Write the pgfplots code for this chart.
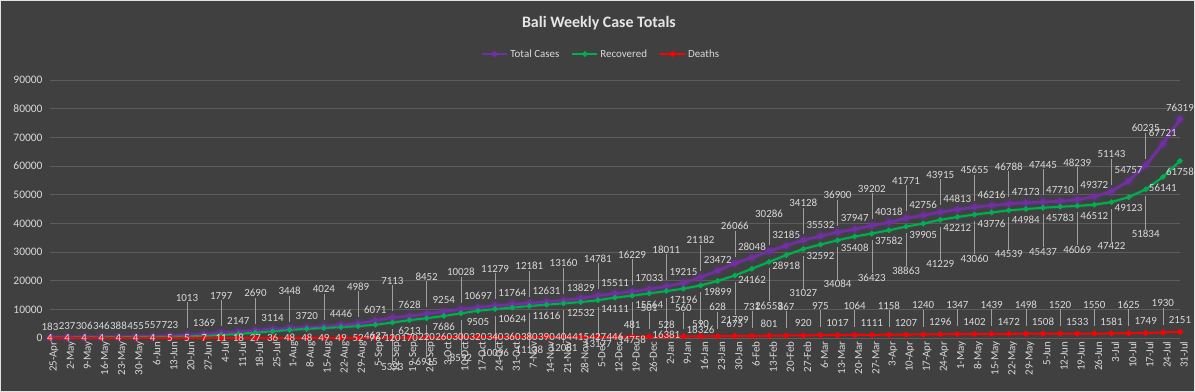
\documentclass[border=0pt]{standalone}
\usepackage{pgfplots}
\pgfplotsset{compat=1.18}
\usepackage{pgfplotstable}
\usepackage{fontspec}
\setmainfont{Carlito}

\definecolor{bg}{RGB}{64,64,64}
\definecolor{gridc}{RGB}{92,92,92}
\definecolor{txt}{RGB}{217,217,217}
\definecolor{tc}{RGB}{112,48,160}
\definecolor{rc}{RGB}{0,176,80}
\definecolor{dc}{RGB}{255,0,0}
\definecolor{lead}{RGB}{160,160,160}

\pgfplotstableread{
w total recovered deaths
0 183 90 4
1 237 150 4
2 306 220 4
3 346 261 4
4 388 285 4
5 455 339 4
6 557 380 4
7 723 449 5
8 1013 555 5
9 1369 700 7
10 1797 1043 11
11 2147 1400 18
12 2690 1883 27
13 3114 2335 36
14 3448 2800 48
15 3720 3190 48
16 4024 3478 49
17 4446 3800 49
18 4989 4120 52
19 6071 4627 76
20 7113 5393 120
21 7628 6213 170
22 8452 6915 220
23 9254 7686 260
24 10028 8592 300
25 10697 9505 320
26 11279 10096 340
27 11764 10624 360
28 12181 11138 380
29 12631 11616 390
30 13160 12081 404
31 13829 12532 415
32 14781 13177 427
33 15511 14111 446
34 16229 14758 481
35 17033 15564 501
36 18011 16381 528
37 19215 17196 560
38 21182 18326 590
39 23472 19899 628
40 26066 21799 675
41 28048 24162 731
42 30286 26553 801
43 32185 28918 867
44 34128 31027 920
45 35532 32592 975
46 36900 34084 1017
47 37947 35408 1064
48 39202 36423 1111
49 40318 37582 1158
50 41771 38863 1207
51 42756 39905 1240
52 43915 41229 1296
53 44813 42212 1347
54 45655 43060 1402
55 46216 43776 1439
56 46788 44539 1472
57 47173 44984 1498
58 47445 45437 1508
59 47710 45783 1520
60 48239 46069 1533
61 49372 46512 1550
62 51143 47422 1581
63 54757 49123 1625
64 60235 51834 1749
65 67721 56141 1930
66 76319 61758 2151
}\data

\newcommand{\lab}{\fontsize{11}{12}\selectfont}

\begin{document}
\begin{tikzpicture}
\fill[bg] (0,0) rectangle (1195bp,392bp);
\draw[txt!80, line width=0.8bp] (0.4bp,0.4bp) rectangle (1194.6bp,391.6bp);
\begin{axis}[
  at={(50bp,54bp)}, anchor=south west,
  scale only axis, width=1130bp, height=258bp,
  xmin=0, xmax=66, ymin=0, ymax=90000,
  clip=false,
  axis line style={draw=none}, tick style={draw=none},
  ytick={0,10000,...,90000},
  ymajorgrids, grid style={gridc, line width=0.8bp},
  scaled y ticks=false,
  /pgf/number format/.cd, fixed, 1000 sep={}, assume math mode=true, /pgfplots/.cd,
  yticklabel style={text=txt, font=\fontsize{11.5}{13}\selectfont, xshift=-4bp},
  xtick={0,...,66},
  xticklabels={25-Apr,2-May,9-May,16-May,23-May,30-May,6-Jun,13-Jun,20-Jun,27-Jun,4-Jul,11-Jul,18-Jul,25-Jul,1-Aug,8-Aug,15-Aug,22-Aug,29-Aug,5-Sep,12-Sep,19-Sep,26-Sep,3-Oct,10-Oct,17-Oct,24-Oct,31-Oct,7-Nov,14-Nov,21-Nov,28-Nov,5-Dec,12-Dec,19-Dec,26-Dec,2-Jan,9-Jan,16-Jan,23-Jan,30-Jan,6-Feb,13-Feb,20-Feb,27-Feb,6-Mar,13-Mar,20-Mar,27-Mar,3-Apr,10-Apr,17-Apr,24-Apr,1-May,8-May,15-May,22-May,29-May,5-Jun,12-Jun,19-Jun,26-Jun,3-Jul,10-Jul,17-Jul,24-Jul,31-Jul},
  xticklabel style={rotate=90, anchor=east, text=txt, font=\fontsize{11}{12}\selectfont, yshift=-4bp},
  legend columns=3,
  legend style={at={(0.4876,1.1008)}, anchor=center, draw=none, fill=none,
    text=txt, font=\fontsize{11}{13}\selectfont,
    /tikz/every even column/.append style={column sep=10bp}},
  legend image code/.code={\draw[mark repeat=2,mark phase=2,#1] plot coordinates {(0bp,0bp) (12.5bp,0bp) (25bp,0bp)};},
]
% glows
\addplot[tc, opacity=0.25, line width=5bp, mark=*, mark size=3bp, forget plot] table[x=w, y=total] {\data};
\addplot[rc, opacity=0.15, line width=4bp, forget plot] table[x=w, y=recovered] {\data};
% main series
\addplot[tc, line width=2.5bp, mark=*, mark size=1.8bp] table[x=w, y=total] {\data};
\addlegendentry{Total Cases}
\addplot[rc, line width=2bp, mark=*, mark size=1.6bp] table[x=w, y=recovered] {\data};
\addlegendentry{Recovered}
\addplot[dc, line width=2bp, mark=*, mark size=1.8bp] table[x=w, y=deaths] {\data};
\addlegendentry{Deaths}
% labels: total
\addplot[draw=none, forget plot, nodes near coords, point meta=explicit symbolic,
  visualization depends on={(\thisrow{w}>7)*(\thisrow{w}<66)*(1-mod(\thisrow{w},2)) \as \far},
  every node near coord/.append style={text=txt, font=\lab, anchor=center, inner sep=0.5bp,
    yshift={11bp+\far*26bp},
    append after command={(\tikzlastnode.south) edge[lead, line width=0.5bp] ++(0,{-\far*26bp})}}
] table[x=w, y=total, meta=total] {\data};
% labels: recovered
\addplot[draw=none, forget plot, nodes near coords, point meta=explicit symbolic,
  restrict x to domain=19:66,
  visualization depends on={(\thisrow{w}<66)*(1-mod(\thisrow{w},2)) \as \far},
  every node near coord/.append style={text=txt, font=\lab, anchor=center, inner sep=0.5bp,
    yshift={-11bp-\far*33bp},
    append after command={(\tikzlastnode.north) edge[lead, line width=0.5bp] ++(0,{\far*33bp})}}
] table[x=w, y=recovered, meta=recovered] {\data};
% labels: deaths
\addplot[draw=none, forget plot, nodes near coords, point meta=explicit symbolic,
  visualization depends on={(\thisrow{w}>33)*mod(\thisrow{w},2) \as \far},
  visualization depends on={(\thisrow{w}>33) \as \up},
  every node near coord/.append style={text=txt, font=\lab, anchor=center, inner sep=0.5bp,
    yshift={\up*(12bp+\far*17bp)},
    append after command={(\tikzlastnode.south) edge[lead, line width=0.5bp] ++(0,{-\far*17bp})}}
] table[x=w, y=deaths, meta=deaths] {\data};
\node[text=white!90!black, font=\bfseries\fontsize{16}{18}\selectfont] at (rel axis cs:0.4858,1.221) {Bali Weekly Case Totals};
\end{axis}
\end{tikzpicture}
\end{document}
